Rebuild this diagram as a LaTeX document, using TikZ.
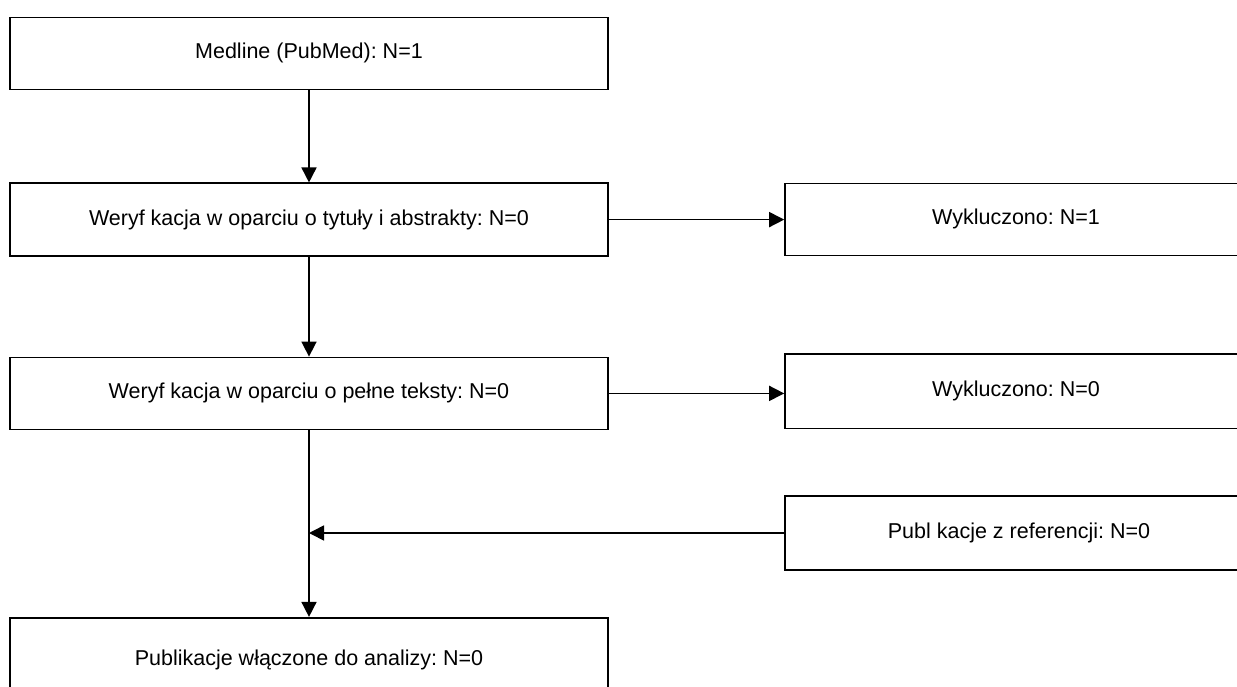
\documentclass[tikz,border=0pt]{standalone}
\usepackage{fontspec}
\setmainfont{Liberation Sans}
\usetikzlibrary{arrows.meta}
\frenchspacing
\begin{document}
\begin{tikzpicture}[x=1pt,y=-1pt,
  box/.style={draw=black, line width=1.6pt, inner sep=0pt, font=\fontsize{21.5}{25}\selectfont\frenchspacing, align=center},
  leftbox/.style={box, minimum width=598pt, minimum height=72pt},
  rightbox/.style={box, minimum width=462pt, minimum height=73pt},
  arr/.style={line width=1.6pt, -{Triangle[length=15pt,width=15pt]}}]
\useasboundingbox (0,0) rectangle (1237,686);
\node[leftbox] (b1) at (309,53.3) {Medline (PubMed): N=1};
\node[leftbox, minimum height=72.7pt] (b2) at (309,219.6) {Weryf kacja w oparciu o tytuły i abstrakty: N=0};
\node[rightbox, minimum height=72pt] (r1) at (1016,219.3) {Wykluczono: N=1};
\node[leftbox] (b3) at (309,393.4) {Weryf kacja w oparciu o pełne teksty: N=0};
\node[rightbox, minimum height=74.7pt] (r2) at (1016,391.3) {Wykluczono: N=0};
\node[box, minimum width=468pt, minimum height=74pt] (r3) at (1019,533) {Publ kacje z referencji: N=0};
\node[leftbox, minimum height=84pt] (b5) at (309,659.7) {Publikacje włączone do analizy: N=0};
\coordinate (j) at (b3.south |- r3.west);
\draw[arr] (b1.south) -- (b2.north);
\draw[arr] (b2.south) -- (b3.north);
\draw[arr] (b2.east) -- (b2.east -| r1.west);
\draw[arr] (b3.east) -- (b3.east -| r2.west);
\draw[line width=1.6pt] (b3.south) -- (j);
\draw[arr] (j) -- (b5.north);
\draw[arr] (r3.west) -- (j);
\end{tikzpicture}
\end{document}
